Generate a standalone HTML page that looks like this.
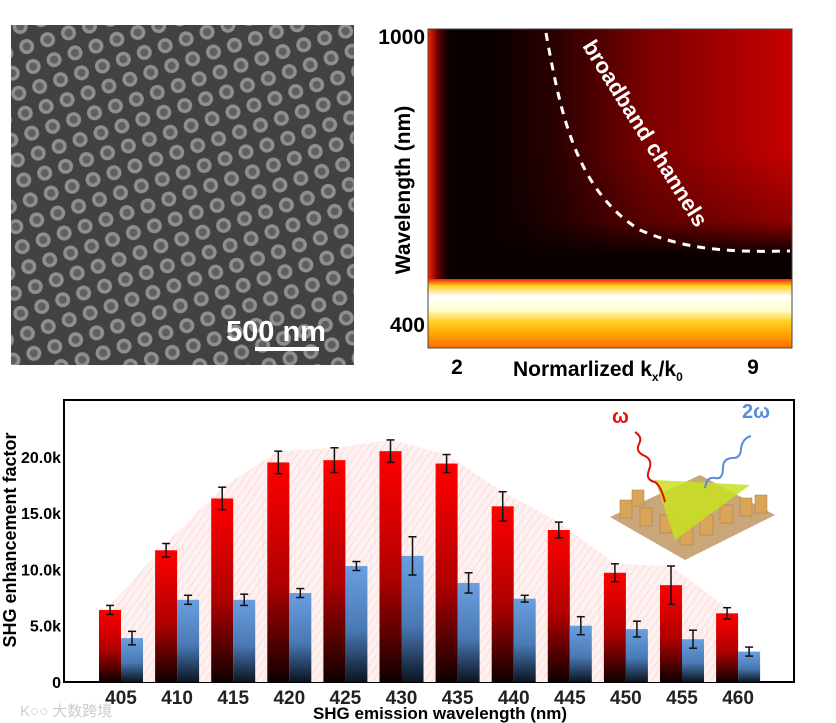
<!DOCTYPE html>
<html><head><meta charset="utf-8"><style>
body{margin:0;background:#fff;width:836px;height:723px;overflow:hidden;font-family:"Liberation Sans",Arial,sans-serif}
svg{position:absolute;left:0;top:0}
</style></head><body>
<svg width="836" height="723" viewBox="0 0 836 723">
<defs>
<linearGradient id="gr" x1="0" y1="0" x2="0" y2="1"><stop offset="0" stop-color="#ff0000"/><stop offset="0.55" stop-color="#b00000"/><stop offset="1" stop-color="#100000"/></linearGradient>
<linearGradient id="gb" x1="0" y1="0" x2="0" y2="1"><stop offset="0" stop-color="#6a9fe0"/><stop offset="0.55" stop-color="#4a7ab5"/><stop offset="1" stop-color="#0b1420"/></linearGradient>
<linearGradient id="hmBase" x1="0" y1="0" x2="1" y2="0"><stop offset="0" stop-color="#0a0000"/><stop offset="0.18" stop-color="#0a0000"/><stop offset="0.35" stop-color="#2a0000"/><stop offset="0.6" stop-color="#7a0000"/><stop offset="1" stop-color="#c80000"/></linearGradient>
<linearGradient id="darkAbove" x1="0" y1="0" x2="0" y2="1"><stop offset="0" stop-color="#0a0000" stop-opacity="0"/><stop offset="0.55" stop-color="#0a0000" stop-opacity="0.3"/><stop offset="0.8" stop-color="#0a0000" stop-opacity="1"/><stop offset="1" stop-color="#0a0000" stop-opacity="1"/></linearGradient>
<linearGradient id="band" x1="0" y1="0" x2="0" y2="1"><stop offset="0" stop-color="#ff2000"/><stop offset="0.1" stop-color="#ffd020"/><stop offset="0.25" stop-color="#ffffff"/><stop offset="0.45" stop-color="#ffffd0"/><stop offset="0.62" stop-color="#ffd020"/><stop offset="0.82" stop-color="#ffa000"/><stop offset="1" stop-color="#ff6a00"/></linearGradient>
<linearGradient id="leftEdge" x1="0" y1="0" x2="1" y2="0"><stop offset="0" stop-color="#ff2000"/><stop offset="0.4" stop-color="#700000"/><stop offset="1" stop-color="#0a0000" stop-opacity="0"/></linearGradient>
<pattern id="sem" width="22" height="21" patternUnits="userSpaceOnUse" patternTransform="rotate(-18)">
<rect width="22" height="21" fill="#4a4a4a"/><circle cx="11" cy="10.5" r="7.5" fill="#a0a0a0"/><circle cx="11" cy="10.5" r="4" fill="#6a6a6a"/></pattern>
<pattern id="hatch" width="6" height="6" patternUnits="userSpaceOnUse" patternTransform="rotate(35)"><rect width="6" height="6" fill="#fff0f0"/><line x1="0" y1="0" x2="0" y2="6" stroke="#f3c8c8" stroke-width="1"/></pattern>
</defs>

<g>
<rect x="11" y="25" width="343" height="340" fill="url(#sem)"/>
<rect x="11" y="25" width="343" height="340" fill="#000" opacity="0.1"/>
<text x="226" y="341" font-size="29" font-weight="bold" fill="#fff">500 nm</text>
<rect x="255" y="347" width="64" height="4" fill="#fff"/>
</g>

<g>
<rect x="428" y="29" width="364" height="319" fill="url(#hmBase)"/>
<rect x="428" y="150" width="364" height="130" fill="url(#darkAbove)"/>
<rect x="428" y="29" width="24" height="250" fill="url(#leftEdge)"/>
<rect x="428" y="279" width="364" height="69" fill="url(#band)"/>
<path d="M546,33 C560,110 575,190 640,230 C690,252 740,252 790,251" fill="none" stroke="#fff" stroke-width="3" stroke-dasharray="8,7"/>
<text transform="translate(582,46) rotate(58)" font-size="22" font-weight="bold" fill="#fff">broadband channels</text>
<rect x="428" y="29" width="364" height="319" fill="none" stroke="#444" stroke-width="1"/>
<text x="425" y="44" font-size="21" font-weight="bold" text-anchor="end">1000</text>
<text x="425" y="332" font-size="21" font-weight="bold" text-anchor="end">400</text>
<text x="457" y="374" font-size="21" font-weight="bold" text-anchor="middle">2</text>
<text x="753" y="374" font-size="21" font-weight="bold" text-anchor="middle">9</text>
<text x="513" y="376" font-size="21" font-weight="bold">Normarlized k<tspan font-size="12" dy="5">x</tspan><tspan dy="-5">/k</tspan><tspan font-size="12" dy="5">0</tspan></text>
<text transform="translate(410,190) rotate(-90)" font-size="21" font-weight="bold" text-anchor="middle">Wavelength (nm)</text>
</g>

<g id="chart">
<rect x="64" y="400" width="730" height="282" fill="#fff" stroke="#000" stroke-width="2"/>
<polygon id="env" fill="url(#hatch)"/>
<g id="bars"></g>
<g id="ticks"></g>
<text transform="translate(16,540) rotate(-90)" font-size="18" font-weight="bold" text-anchor="middle">SHG enhancement factor</text>
<text x="440" y="719" font-size="17" font-weight="bold" text-anchor="middle">SHG emission wavelength (nm)</text>
</g>

<g>
<polygon points="610,517 700,475 775,515 685,560" fill="#c9a77a"/>
<g fill="#d9a55a" stroke="#a87a3a" stroke-width="0.5">
<rect x="620" y="500" width="12" height="18"/><rect x="640" y="508" width="12" height="18"/><rect x="660" y="515" width="12" height="18"/><rect x="680" y="525" width="13" height="20"/><rect x="700" y="515" width="13" height="20"/><rect x="720" y="505" width="13" height="18"/><rect x="740" y="498" width="12" height="18"/><rect x="755" y="495" width="12" height="18"/><rect x="632" y="490" width="12" height="16"/>
</g>
<polygon points="655,480 750,485 675,540" fill="#c8e020" opacity="0.85"/>
<text x="612" y="423" font-size="20" font-weight="bold" fill="#e01010">ω</text>
<text x="742" y="418" font-size="20" font-weight="bold" fill="#5b8bdc">2ω</text>
<path d="M635,432 q8,5 4,12 q-4,8 6,12 q8,4 4,14 q-4,10 6,12 q6,4 10,20" fill="none" stroke="#e01010" stroke-width="2"/>
<path d="M705,488 q2,-12 10,-10 q8,2 8,-10 q0,-10 10,-10 q8,0 8,-10 q2,-10 10,-12" fill="none" stroke="#5b8bdc" stroke-width="2"/>
</g>

<text x="20" y="716" font-size="15" fill="#ccc" font-family="Liberation Sans, Noto Sans CJK SC, sans-serif">K○○ 大数跨境</text>
</svg>
<script>
const categories=[405,410,415,420,425,430,435,440,445,450,455,460];
const redValues=[6.4,11.7,16.3,19.5,19.7,20.5,19.4,15.6,13.5,9.7,8.6,6.1];
const redErrors=[0.4,0.6,1.0,1.0,1.1,1.0,0.8,1.3,0.7,0.8,1.7,0.5];
const blueValues=[3.9,7.3,7.3,7.9,10.3,11.2,8.8,7.4,5.0,4.7,3.8,2.7];
const blueErrors=[0.6,0.4,0.5,0.4,0.4,1.7,0.9,0.3,0.8,0.7,0.8,0.4];
const yTicks=[0,5,10,15,20];
const yTickLabels=["0","5.0k","10.0k","15.0k","20.0k"];
const NS="http://www.w3.org/2000/svg";
const xScale=i=>121+i*56.1;
const yScale=v=>682-v*11.26;
const bw=22;
const bars=document.getElementById('bars'),ticks=document.getElementById('ticks');
function mk(tag,attrs,parent){const e=document.createElementNS(NS,tag);for(const k in attrs)e.setAttribute(k,attrs[k]);parent.appendChild(e);return e;}
const envPts=[];
categories.forEach((c,i)=>{
 const x=xScale(i);
 envPts.push((x-bw/2)+','+yScale(redValues[i]+redErrors[i]));
 const r=mk('rect',{x:x-bw,y:yScale(redValues[i]),width:bw,height:682-yScale(redValues[i]),fill:'url(#gr)'},bars);
 
 
 const b=mk('rect',{x:x,y:yScale(blueValues[i]),width:bw,height:682-yScale(blueValues[i]),fill:'url(#gb)'},bars);
 
 
 [[x-bw/2,redValues[i],redErrors[i]],[x+bw/2,blueValues[i],blueErrors[i]]].forEach(([cx,v,e])=>{
  const g=mk('g',{stroke:'#111','stroke-width':1.5},bars);
  
  
  mk('line',{x1:cx,x2:cx,y1:yScale(v+e),y2:yScale(v-e)},g);
  mk('line',{x1:cx-4,x2:cx+4,y1:yScale(v+e),y2:yScale(v+e)},g);
  mk('line',{x1:cx-4,x2:cx+4,y1:yScale(v-e),y2:yScale(v-e)},g);
 });
 const t=mk('text',{x:x,y:704,'font-size':19,'font-weight':'bold','text-anchor':'middle',fill:'#222'},ticks);
 t.textContent=c;
 
 
});
envPts.push(xScale(11)-bw/2+',682',xScale(0)-bw/2+',682');
document.getElementById('env').setAttribute('points',envPts.join(' '));
yTicks.forEach((v,i)=>{
 const t=mk('text',{x:61,y:yScale(v)+6,'font-size':16,'font-weight':'bold','text-anchor':'end'},ticks);
 t.textContent=yTickLabels[i];
 
 
});
</script>
</body></html>
